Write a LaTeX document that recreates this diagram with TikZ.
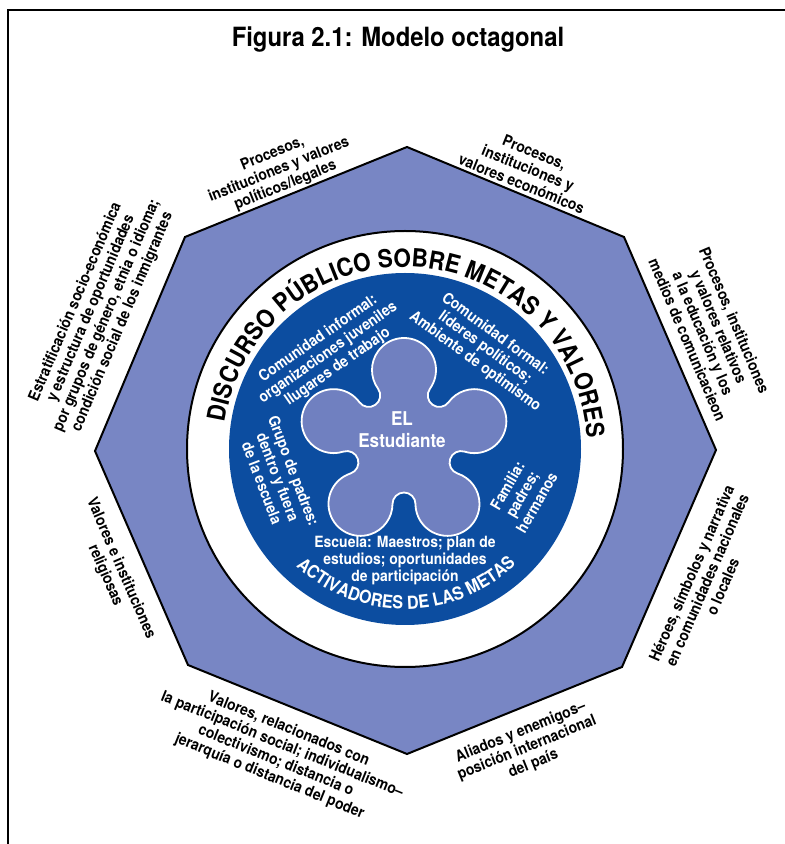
\documentclass[tikz,border=0pt]{standalone}
\usepackage{fontspec}
\setmainfont{TeX Gyre Heros}[FakeStretch=0.9]
\usetikzlibrary{decorations.text}

\definecolor{octfill}{HTML}{7886C4}
\definecolor{discblue}{HTML}{0C4DA0}
\definecolor{blobfill}{HTML}{7080C0}

\newcommand\figtitlefont{\fontsize{26.5}{30}\selectfont\bfseries}
\newcommand\edgefont{\fontsize{15.5}{17}\selectfont\bfseries}
\newcommand\namefont{\fontsize{19}{22}\selectfont\bfseries}
\newcommand\ringfont{\fontsize{25}{28}\selectfont\bfseries}
\newcommand\activfont{\fontsize{18}{20}\selectfont\bfseries}

\begin{document}
\begin{tikzpicture}[x=1pt,y=1pt,
  outerlabel/.style={align=center, font=\edgefont, inner sep=0pt},
  innerlabel/.style={outerlabel, text=white}]
\useasboundingbox (0,0) rectangle (785,844);
\fill[white] (0,0) rectangle (785,844);

\draw[line width=2] (8,0) -- (8,834) -- (785,834);

\node[font=\figtitlefont] (title) at (398,804) {Figura 2.1: Modelo octagonal};

\draw[fill=octfill, line width=2] (407,697) -- (624,607) -- (716,394) -- (622,177)
  -- (407,90) -- (188,179) -- (95,393) -- (185,607) -- cycle;

\coordinate (ctr) at (405,395);
\draw[fill=white, line width=2] (ctr) circle[radius=218];
\fill[discblue] (ctr) circle[radius=176];

\begin{scope}[shift={(404,400)}]
\filldraw[fill=blobfill, draw=white, line width=1.8] (25.94,55.27)
  \foreach \a in {90,162,234,306,18} {
    arc[start angle=\a-125.82, end angle=\a+125.82, radius=32]
    arc[start angle=\a+305.82, end angle=\a+126.18, radius=11.5]
  } -- cycle;
\end{scope}

\path[decorate, decoration={text along path, text align=center,
  text={|\ringfont|DISCURSO PÚBLICO SOBRE METAS Y VALORES}}]
  ([shift={(182.5:182)}]ctr) arc[start angle=182.5, end angle=-7.5, radius=182];

\path[decorate, decoration={text along path, text align=center, text color=white,
  text={|\activfont|ACTIVADORES DE LAS METAS}}]
  ([shift={(212:160)}]ctr) arc[start angle=212, end angle=329, radius=160];

\node[outerlabel, rotate=22] (polit) at (279,674) {Procesos,\\instituciones y valores\\políticos/legales};
\node[outerlabel, rotate=-22] (econ) at (528,676) {Procesos,\\instituciones y\\valores económicos};
\node[outerlabel, rotate=-67] (educ) at (711,514) {Procesos, instituciones\\y valores relativos\\a la educación y los\\medios de comunicacieon};
\node[outerlabel, rotate=66.5] (heroes) at (707,264) {Héroes, símbolos y narrativa\\en comunidades nacionales\\o locales};
\node[outerlabel, rotate=22] (aliados) at (527,96) {Aliados y enemigos–\\posición internacional\\del país};
\node[outerlabel, rotate=-22] (social) at (279,91) {Valores, relacionados con\\la participación social; individualismo–\\colectivismo; distancia o\\jerarquía o distancia del poder};
\node[outerlabel, rotate=-66.5] (relig) at (113,272) {Valores e instituciones\\religiosas};
\node[outerlabel, rotate=67] (estrat) at (99,532) {Estratificación socio-económica\\y estructura de oportunidades\\por grupos de género, etnia o idioma;\\condición social de los inmigrantes};

\node[innerlabel, rotate=35] (informal) at (328,491) {Comunidad informal:\\organizaciones juveniles\\llugares de trabajo};
\node[innerlabel, rotate=-36] (formal) at (485,496) {Comunidad formal:\\líderes políticos;\\Ambiente de optimismo};
\node[innerlabel, font=\namefont] (student) at (402,414) {EL\\Estudiante};
\node[innerlabel, rotate=-69] (padres) at (278,367) {Grupo de padres:\\dentro y fuera\\de la escuela};
\node[innerlabel, rotate=60] (familia) at (522,350) {Familia:\\padres;\\hermanos};
\node[innerlabel] (escuela) at (405,283) {Escuela: Maestros; plan de\\estudios; oportunidades\\de participación};
\end{tikzpicture}
\end{document}
